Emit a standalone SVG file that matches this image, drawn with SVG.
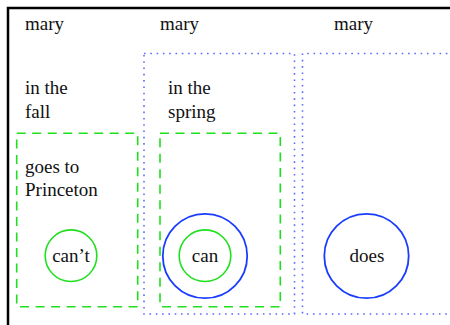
<svg xmlns="http://www.w3.org/2000/svg" width="450" height="325" viewBox="0 0 450 325">
<style>
text{font-family:'Liberation Serif',serif;font-size:19px;fill:#111}
.frame{fill:none;stroke:#000;stroke-width:2.5}
.dot{fill:none;stroke:#5a6cff;stroke-width:1.6;stroke-dasharray:1.6,4.7}
.dash{fill:none;stroke:#1ee01e;stroke-width:1.6;stroke-dasharray:9,6.5}
.g{fill:none;stroke:#1ee01e;stroke-width:1.6}
.b{fill:none;stroke:#1a3cff;stroke-width:1.8}
.c{text-anchor:middle}
</style>
<rect width="450" height="325" fill="#fff"/>
<g id="frame"><path class="frame" d="M8,326 V8 H451"/></g>
<g id="labels">
<text x="25" y="30">mary</text>
<text x="160" y="30">mary</text>
<text x="334" y="30">mary</text>
</g>
<g id="spring-region"><rect class="dot" x="144" y="53.5" width="150.5" height="260.5"/></g>
<g id="third-region"><path class="dot" d="M460,53.5 H302.5 V314 H460"/></g>
<g id="fall-frame">
<text x="25" y="94">in the</text>
<text x="25" y="117.5">fall</text>
</g>
<g id="spring-frame">
<text x="168" y="94">in the</text>
<text x="168" y="117.5">spring</text>
</g>
<g id="fall-box"><rect class="dash" x="16.7" y="133.3" width="121" height="173.4"/>
<text x="25" y="172.7">goes to</text>
<text x="25" y="196.3">Princeton</text>
</g>
<g id="spring-box"><rect class="dash" x="160" y="133.3" width="120.3" height="173.4"/></g>
<g id="cant"><circle class="g" cx="71" cy="255.7" r="25.8"/><text class="c" x="71" y="261.5">can’t</text></g>
<g id="can"><circle class="b" cx="205" cy="256" r="42.2"/><circle class="g" cx="205" cy="255.7" r="25.8"/><text class="c" x="205" y="261.5">can</text></g>
<g id="does"><circle class="b" cx="366.5" cy="256" r="42.2"/><text class="c" x="367" y="261.5">does</text></g>
<g id="connectors"></g>
</svg>
